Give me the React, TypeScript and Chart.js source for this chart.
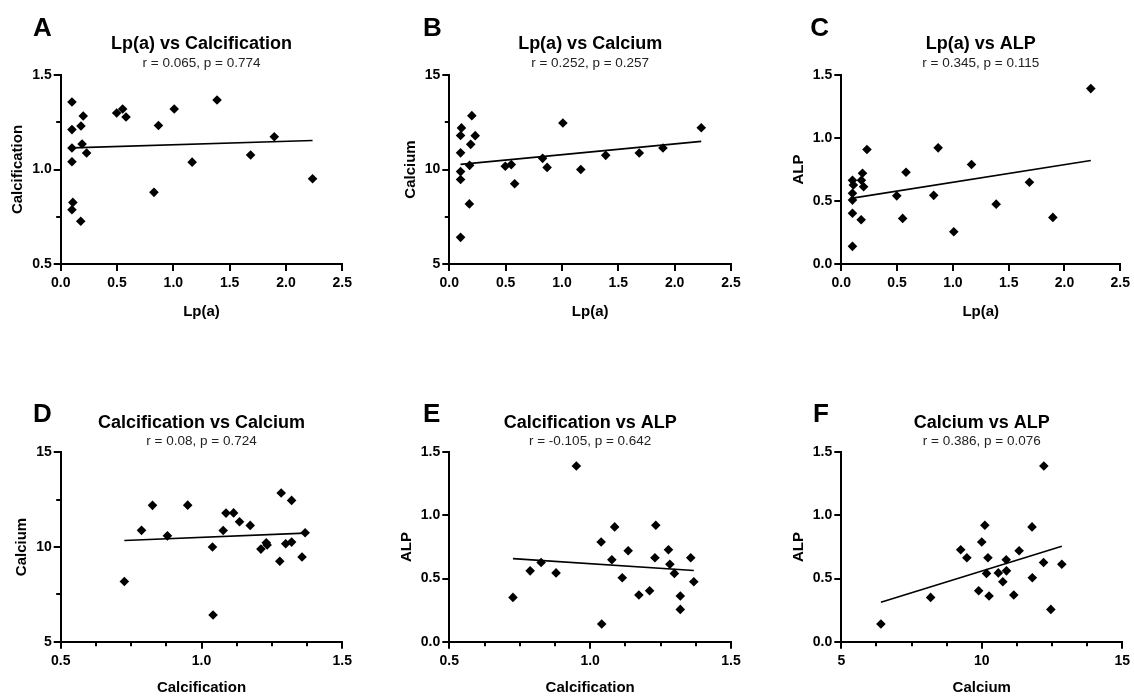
import React, { useEffect, useRef } from 'react';
import { Chart, registerables } from 'chart.js';

Chart.register(...registerables);

// Per-subject measurements (22 subjects), same order in every array
const lpa = [0.1, 0.1, 0.1, 0.1, 0.108, 0.1, 0.178, 0.18, 0.2, 0.19, 0.23, 0.497, 0.55, 0.58, 0.868, 0.828, 1.008, 1.167, 1.388, 1.686, 1.896, 2.236];
const calcification = [1.357, 1.211, 1.114, 1.041, 0.826, 0.787, 0.726, 1.23, 1.283, 1.135, 1.087, 1.299, 1.32, 1.278, 1.233, 0.879, 1.32, 1.039, 1.368, 1.077, 1.173, 0.951];
const calcium = [9.47, 9.89, 11.8, 6.41, 12.2, 10.88, 8.18, 10.22, 12.85, 11.33, 11.79, 10.17, 10.26, 9.25, 10.11, 10.59, 12.46, 10.0, 10.75, 10.87, 11.14, 12.21];
const alp = [0.665, 0.403, 0.507, 0.14, 0.627, 0.561, 0.351, 0.665, 0.613, 0.72, 0.909, 0.541, 0.362, 0.728, 0.922, 0.545, 0.256, 0.79, 0.475, 0.649, 0.37, 1.392];

const panelLetters = ['A', 'B', 'C', 'D', 'E', 'F'];
const panelTitles = [
  'Lp(a) vs Calcification',
  'Lp(a) vs Calcium',
  'Lp(a) vs ALP',
  'Calcification vs Calcium',
  'Calcification vs ALP',
  'Calcium vs ALP',
];
const panelStats = [
  'r = 0.065, p = 0.774',
  'r = 0.252, p = 0.257',
  'r = 0.345, p = 0.115',
  'r = 0.08, p = 0.724',
  'r = -0.105, p = 0.642',
  'r = 0.386, p = 0.076',
];

type AxisSpec = { title: string; min: number; max: number; step: number; digits: number; minor: number[] };

const lpaAxis: AxisSpec = { title: 'Lp(a)', min: 0, max: 2.5, step: 0.5, digits: 1, minor: [] };
const calcYAxis: AxisSpec = { title: 'Calcification', min: 0.5, max: 1.5, step: 0.5, digits: 1, minor: [0.75, 1.25] };
const calcXAxis: AxisSpec = { title: 'Calcification', min: 0.5, max: 1.5, step: 0.5, digits: 1, minor: [0.625, 0.75, 0.875, 1.125, 1.25, 1.375] };
const caYAxis: AxisSpec = { title: 'Calcium', min: 5, max: 15, step: 5, digits: 0, minor: [7.5, 12.5] };
const caXAxis: AxisSpec = { title: 'Calcium', min: 5, max: 15, step: 5, digits: 0, minor: [6.25, 7.5, 8.75, 11.25, 12.5, 13.75] };
const alpAxis: AxisSpec = { title: 'ALP', min: 0, max: 1.5, step: 0.5, digits: 1, minor: [] };

const panelX = [lpa, lpa, lpa, calcification, calcification, calcium];
const panelY = [calcification, calcium, alp, calcium, alp, alp];
const panelXAxis = [lpaAxis, lpaAxis, lpaAxis, calcXAxis, calcXAxis, caXAxis];
const panelYAxis = [calcYAxis, caYAxis, alpAxis, caYAxis, alpAxis, alpAxis];

const FONT = '"Liberation Sans", Arial, Helvetica, sans-serif';

// Placement of each panel's canvas and its inner spacing
type Frame = {
  left: number; top: number; width: number; height: number;
  yWidth: number; padRight: number; yTitlePad: number;
  titleTop: number; subBottom: number; padBottom: number; xTitlePad: number;
  letterX: number; letterY: number;
};

const row1 = { top: 0, height: 340, titleTop: 33.5, subBottom: 3.6, padBottom: 18, xTitlePad: 1.3, letterY: 36 };
const row2 = { top: 340, height: 360, titleTop: 71.9, subBottom: 2.5, padBottom: 0.3, xTitlePad: 2.4, letterY: 81.7 };

const frames: Frame[] = [
  { ...row1, left: 0, width: 378, yWidth: 60.7, padRight: 35.7, yTitlePad: 9.3, letterX: 33 },
  { ...row1, left: 378, width: 378, yWidth: 71.3, padRight: 25, yTitlePad: 24.3, letterX: 45 },
  { ...row1, left: 756, width: 378, yWidth: 85.3, padRight: 11.3, yTitlePad: 33.7, letterX: 54.3 },
  { ...row2, left: 0, width: 378, yWidth: 60.7, padRight: 35.7, yTitlePad: 13, letterX: 33 },
  { ...row2, left: 378, width: 378, yWidth: 71.3, padRight: 25, yTitlePad: 20, letterX: 45 },
  { ...row2, left: 756, width: 378, yWidth: 85.3, padRight: 11.3, yTitlePad: 33.7, letterX: 57 },
];

function fitLine(xs: number[], ys: number[]) {
  const n = xs.length;
  const mx = xs.reduce((a, b) => a + b, 0) / n;
  const my = ys.reduce((a, b) => a + b, 0) / n;
  let sxy = 0;
  let sxx = 0;
  for (let i = 0; i < n; i++) {
    sxy += (xs[i] - mx) * (ys[i] - my);
    sxx += (xs[i] - mx) * (xs[i] - mx);
  }
  const slope = sxy / sxx;
  const intercept = my - slope * mx;
  const x0 = Math.min(...xs);
  const x1 = Math.max(...xs);
  return [
    { x: x0, y: intercept + slope * x0 },
    { x: x1, y: intercept + slope * x1 },
  ];
}

// Short intermediate tick marks drawn from the scales' own pixel mapping
const minorTickPlugin = {
  id: 'minorTicks',
  afterDraw(chart: any, _args: any, opts: any) {
    const { ctx } = chart;
    const xs = chart.scales.x;
    const ys = chart.scales.y;
    const len = opts.length ?? 4;
    ctx.save();
    ctx.strokeStyle = '#000';
    ctx.lineWidth = 2;
    ctx.beginPath();
    for (const v of opts.x || []) {
      const px = Math.round(xs.getPixelForValue(v));
      ctx.moveTo(px, xs.top);
      ctx.lineTo(px, xs.top + len);
    }
    for (const v of opts.y || []) {
      const py = Math.round(ys.getPixelForValue(v));
      ctx.moveTo(ys.right, py);
      ctx.lineTo(ys.right - len, py);
    }
    ctx.stroke();
    ctx.restore();
  },
};

const panelLetterPlugin = {
  id: 'panelLetter',
  afterDraw(chart: any, _args: any, opts: any) {
    const { ctx } = chart;
    ctx.save();
    ctx.fillStyle = '#000';
    ctx.font = `bold 26px ${FONT}`;
    ctx.textAlign = 'left';
    ctx.textBaseline = 'alphabetic';
    ctx.fillText(opts.text, opts.x, opts.y);
    ctx.restore();
  },
};

function Panel({ index }: { index: number }) {
  const ref = useRef<HTMLCanvasElement>(null);
  const f = frames[index];

  useEffect(() => {
    if (!ref.current) return;
    const xs = panelX[index];
    const ys = panelY[index];
    const xa = panelXAxis[index];
    const ya = panelYAxis[index];
    const points = xs.map((x, i) => ({ x, y: ys[i] }));

    const tickFont = { family: FONT, size: 14, weight: 'bold' as const };
    const titleFont = { family: FONT, size: 15, weight: 'bold' as const };

    const chart = new Chart(ref.current, {
      type: 'scatter',
      data: {
        datasets: [
          {
            type: 'line',
            data: fitLine(xs, ys),
            borderColor: '#000',
            borderWidth: 1.6,
            pointRadius: 0,
            fill: false,
          },
          {
            type: 'scatter',
            data: points,
            pointStyle: 'rectRot',
            pointRadius: 4.8,
            backgroundColor: '#000',
            borderColor: '#000',
            borderWidth: 0,
          },
        ],
      } as any,
      options: {
        responsive: false,
        animation: false,
        events: [],
        layout: {
          padding: { top: 0, left: 0, right: f.padRight, bottom: f.padBottom },
        },
        scales: {
          x: {
            type: 'linear',
            min: xa.min,
            max: xa.max,
            afterFit: (s: any) => { s.height = 58; },
            border: { display: true, width: 2, color: '#000' },
            grid: { display: true, drawOnChartArea: false, drawTicks: true, tickLength: 7, lineWidth: 2, color: '#000' },
            ticks: {
              stepSize: xa.step,
              autoSkip: false,
              maxRotation: 0,
              padding: 4,
              color: '#000',
              font: tickFont,
              callback: (v: any) => Number(v).toFixed(xa.digits),
            },
            title: {
              display: true,
              text: xa.title,
              color: '#000',
              font: titleFont,
              padding: { top: 0, bottom: f.xTitlePad },
            },
          },
          y: {
            type: 'linear',
            min: ya.min,
            max: ya.max,
            afterFit: (s: any) => { s.width = f.yWidth; },
            border: { display: true, width: 2, color: '#000' },
            grid: { display: true, drawOnChartArea: false, drawTicks: true, tickLength: 7, lineWidth: 2, color: '#000' },
            ticks: {
              stepSize: ya.step,
              autoSkip: false,
              padding: 2,
              color: '#000',
              font: tickFont,
              callback: (v: any) => Number(v).toFixed(ya.digits),
            },
            title: {
              display: true,
              text: ya.title,
              color: '#000',
              font: titleFont,
              padding: { top: f.yTitlePad, bottom: 0 },
            },
          },
        },
        plugins: {
          legend: { display: false },
          tooltip: { enabled: false },
          title: {
            display: true,
            text: panelTitles[index],
            fullSize: false,
            color: '#000',
            font: { family: FONT, size: 18, weight: 'bold' },
            padding: { top: f.titleTop, bottom: 0 },
          },
          subtitle: {
            display: true,
            text: panelStats[index],
            fullSize: false,
            color: '#222',
            font: { family: FONT, size: 13.5, weight: 'normal' },
            padding: { top: 0.1, bottom: f.subBottom },
          },
          minorTicks: { x: xa.minor, y: ya.minor, length: 4.5 },
          panelLetter: { text: panelLetters[index], x: f.letterX, y: f.letterY },
        } as any,
      },
      plugins: [minorTickPlugin, panelLetterPlugin],
    });

    return () => chart.destroy();
  }, [index]);

  return (
    <canvas
      ref={ref}
      width={f.width}
      height={f.height}
      style={{ position: 'absolute', left: f.left, top: f.top, width: f.width, height: f.height }}
    />
  );
}

export default function App() {
  useEffect(() => {
    document.body.style.margin = '0';
  }, []);

  return (
    <div
      style={{
        position: 'absolute',
        left: 0,
        top: 0,
        width: 1134,
        height: 697,
        overflow: 'hidden',
        background: '#fff',
      }}
    >
      {panelLetters.map((_, i) => (
        <Panel key={i} index={i} />
      ))}
    </div>
  );
}
